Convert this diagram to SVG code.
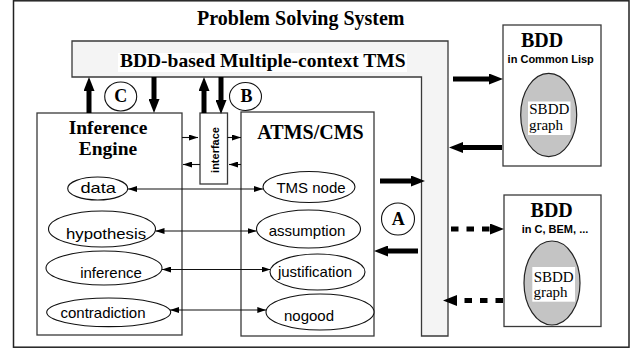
<svg xmlns="http://www.w3.org/2000/svg" width="639" height="349" viewBox="0 0 639 349">
<style>
.box{fill:#fff;stroke:#3a3a3a;stroke-width:1.3}
.tms{fill:#f4f4f4;stroke:#3a3a3a;stroke-width:1.3}
.ell{fill:#fff;stroke:#111;stroke-width:1.1}
.gray{fill:#c4c4c4;stroke:#222;stroke-width:1.2}
.ttl{font-family:"Liberation Serif",serif;font-weight:bold;fill:#000;text-anchor:middle}
.lab{font-family:"Liberation Sans",Arial,sans-serif;font-size:15px;fill:#000;text-anchor:middle}
.sub{font-family:"Liberation Sans",Arial,sans-serif;font-size:11px;font-weight:bold;fill:#000;text-anchor:middle}
.sb{font-family:"Liberation Serif",serif;font-size:15px;fill:#000;text-anchor:middle}
.thin{stroke:#111;stroke-width:1.1;fill:none}
.thick{stroke:#000;stroke-width:5;fill:none}
.dash{stroke:#000;stroke-width:5;fill:none;stroke-dasharray:7.5 8}
</style>
<defs>
<marker id="sm" viewBox="0 0 9 6" refX="9" refY="3" markerWidth="9" markerHeight="6" markerUnits="userSpaceOnUse" orient="auto-start-reverse">
<path d="M0,0 L9,3 L0,6 z" fill="#000"/>
</marker>
<marker id="big" viewBox="0 0 14 11" refX="4" refY="5.5" markerWidth="14" markerHeight="11" markerUnits="userSpaceOnUse" orient="auto">
<path d="M0,0 L14,5.5 L0,11 z" fill="#000"/>
</marker>
</defs>

<rect x="13.5" y="0.8" width="615.5" height="346.4" fill="#fff" stroke="#222" stroke-width="1.5"/>
<text class="ttl" x="300.8" y="25" font-size="20">Problem Solving System</text>

<g id="tms">
<path class="tms" d="M72,41 H448 V336 H421.5 V77 H72 Z"/>
<rect x="118" y="53" width="289" height="19" fill="#fff"/>
<text class="ttl" x="262.7" y="67" font-size="19.5">BDD-based Multiple-context TMS</text>
</g>

<g id="inference-engine">
<rect class="box" x="37" y="113" width="145" height="222"/>
<text class="ttl" x="108" y="134" font-size="19.5">Inference</text>
<text class="ttl" x="108" y="155" font-size="19.5">Engine</text>
</g>
<g id="data"><ellipse class="ell" cx="97.7" cy="188.5" rx="30" ry="11.5"/><text class="lab" x="98.2" y="193.3" textLength="35.5" lengthAdjust="spacingAndGlyphs">data</text></g>
<g id="hypothesis"><ellipse class="ell" cx="102" cy="229" rx="53.5" ry="18"/><text class="lab" x="106" y="239" textLength="80" lengthAdjust="spacingAndGlyphs">hypothesis</text></g>
<g id="inference"><ellipse class="ell" cx="104" cy="268" rx="58" ry="17"/><text class="lab" x="111" y="277.7">inference</text></g>
<g id="contradiction"><ellipse class="ell" cx="108.7" cy="312.3" rx="62" ry="14.3"/><text class="lab" x="103" y="318.3">contradiction</text></g>

<g id="interface">
<rect class="box" x="200" y="113" width="27.5" height="71"/>
<text class="sub" transform="translate(218.5,150) rotate(-90)" x="0" y="0">interface</text>
</g>

<g id="atms">
<rect class="box" x="241" y="112" width="133" height="224"/>
<text class="ttl" x="310.5" y="139" font-size="20">ATMS/CMS</text>
</g>
<g id="tms-node"><ellipse class="ell" cx="309" cy="187" rx="46" ry="15.5"/><text class="lab" x="311" y="193.3">TMS node</text></g>
<g id="assumption"><ellipse class="ell" cx="308.5" cy="229" rx="52" ry="19"/><text class="lab" x="307" y="236">assumption</text></g>
<g id="justification"><ellipse class="ell" cx="317.5" cy="272" rx="47.5" ry="18"/><text class="lab" x="315" y="276.7">justification</text></g>
<g id="nogood"><ellipse class="ell" cx="320" cy="312" rx="54" ry="18"/><text class="lab" x="309" y="321">nogood</text></g>

<g id="bdd-lisp">
<rect class="box" x="503" y="25" width="98" height="141"/>
<text class="ttl" x="542" y="46.7" font-size="20">BDD</text>
<text class="sub" x="550.7" y="63.3">in Common Lisp</text>
<ellipse class="gray" cx="548.7" cy="115" rx="28" ry="41.7"/>
<rect x="528" y="101.5" width="42.5" height="33.5" fill="#fff"/>
<text class="sb" x="549.3" y="114.3">SBDD</text>
<text class="sb" x="546" y="130">graph</text>
</g>

<g id="bdd-c">
<rect class="box" x="504" y="195" width="97" height="131.5"/>
<text class="ttl" x="551.7" y="216.7" font-size="20">BDD</text>
<text class="sub" x="555" y="233.3">in C, BEM, ...</text>
<ellipse class="gray" cx="552" cy="283" rx="28" ry="42"/>
<rect x="532.3" y="267" width="42.7" height="34.7" fill="#fff"/>
<text class="sb" x="553.7" y="281.7">SBDD</text>
<text class="sb" x="550.5" y="296.7">graph</text>
</g>

<g id="label-c"><ellipse class="ell" cx="120.7" cy="96.5" rx="16" ry="14.5"/><text class="ttl" x="120.7" y="102" font-size="18">C</text></g>
<g id="label-b"><ellipse class="ell" cx="245.5" cy="96.5" rx="16" ry="14"/><text class="ttl" x="246.5" y="102" font-size="18">B</text></g>
<g id="label-a"><ellipse class="ell" cx="398" cy="219" rx="16.5" ry="16"/><text class="ttl" x="398.3" y="225" font-size="18">A</text></g>

<g id="connectors">
<line class="thin" x1="128" y1="189" x2="263" y2="189" marker-start="url(#sm)" marker-end="url(#sm)"/>
<line class="thin" x1="155.5" y1="231" x2="256.5" y2="231" marker-start="url(#sm)" marker-end="url(#sm)"/>
<line class="thin" x1="162" y1="269.5" x2="270.5" y2="269.5" marker-start="url(#sm)" marker-end="url(#sm)"/>
<line class="thin" x1="170" y1="310" x2="266.3" y2="310" marker-start="url(#sm)" marker-end="url(#sm)"/>

<line class="thin" x1="182" y1="137.5" x2="198" y2="137.5" marker-end="url(#sm)"/>
<line class="thin" x1="227.5" y1="137.5" x2="241" y2="137.5" marker-end="url(#sm)"/>
<line class="thin" x1="241" y1="164.5" x2="229" y2="164.5" marker-end="url(#sm)"/>
<line class="thin" x1="200" y1="164.5" x2="183" y2="164.5" marker-end="url(#sm)"/>

<line class="thick" x1="89" y1="113" x2="89" y2="87" marker-end="url(#big)"/>
<line class="thick" x1="154" y1="77" x2="154" y2="103" marker-end="url(#big)"/>
<line class="thick" x1="204" y1="113" x2="204" y2="87" marker-end="url(#big)"/>
<line class="thick" x1="221" y1="77" x2="221" y2="104" marker-end="url(#big)"/>

<line class="thick" x1="453" y1="79" x2="493" y2="79" marker-end="url(#big)"/>
<line class="thick" x1="502" y1="147.5" x2="459" y2="147.5" marker-end="url(#big)"/>
<line class="thick" x1="380" y1="181" x2="415" y2="181" marker-end="url(#big)"/>
<line class="thick" x1="418" y1="251" x2="384" y2="251" marker-end="url(#big)"/>
<line class="dash" x1="451" y1="229" x2="494" y2="229" marker-end="url(#big)"/>
<line class="dash" x1="503" y1="300.5" x2="453" y2="300.5" marker-end="url(#big)"/>
</g>
</svg>
